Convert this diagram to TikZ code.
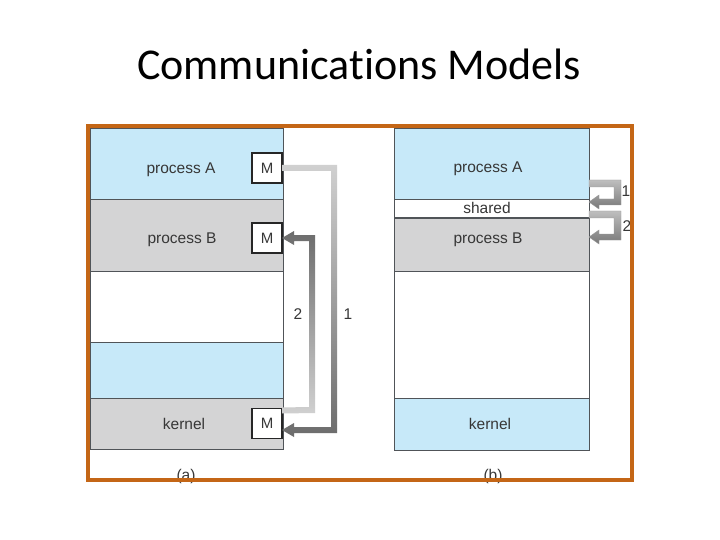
\documentclass[tikz,border=0pt]{standalone}
\usepackage{fontspec}
\setmainfont{Liberation Sans}
\newfontfamily\titlefont[Ligatures=NoCommon]{Carlito}
\usetikzlibrary{calc}
\definecolor{memblue}{RGB}{199,233,249}
\definecolor{memgray}{RGB}{212,212,213}
\definecolor{frameor}{RGB}{196,102,22}
\definecolor{edgegray}{RGB}{80,84,88}
\definecolor{txt}{RGB}{55,55,55}
\definecolor{arrlight}{RGB}{208,208,208}
\definecolor{arrdark}{RGB}{108,108,108}
\definecolor{arrmid}{RGB}{190,190,190}
\definecolor{arrdeep}{RGB}{120,120,120}
\begin{document}
\begin{tikzpicture}[x=1pt,y=-1pt,
  region/.style={draw=edgegray, line width=0.7pt, inner sep=0pt, outer sep=0pt, anchor=north west},
  lbl/.style={text=txt, font=\fontsize{15.5}{18}\selectfont, inner sep=0pt, anchor=base},
  num/.style={text=txt, font=\fontsize{15.5}{18}\selectfont, inner sep=0pt},
  mbox/.style={draw=black!85, fill=white, line width=1.2pt, minimum size=30pt, inner sep=0pt, outer sep=0pt, text=txt, font=\fontsize{15}{17}\selectfont},
  arrowband/.style={draw=none},
  arrowbandb/.style={draw=black!40, line width=0.4pt}
]
\useasboundingbox (0,0) rectangle (720,540);
\fill[white] (0,0) rectangle (720,540);

% title
\node[font=\titlefont\fontsize{44}{52}\selectfont, anchor=base, inner sep=0pt] (title) at (359,80) {Communications Models};

% ---- (a) message passing ----
\node[region, fill=memblue, minimum width=193pt, minimum height=71pt] (aA) at (90,128) {};
\node[region, fill=memgray, minimum width=193pt, minimum height=72pt] (aB) at (90,199) {};
\node[region, fill=white, minimum width=193pt, minimum height=71pt] (aF) at (90,271) {};
\node[region, fill=memblue, minimum width=193pt, minimum height=56pt] (aC) at (90,342) {};
\node[region, fill=memgray, minimum width=193pt, minimum height=51pt] (aK) at (90,398) {};

\node[lbl] (taA) at (181,173.5) {process A};
\node[lbl] (taB) at (182,243.3) {process B};
\node[lbl] (taK) at (184,429.3) {kernel};

\node[mbox] (MA) at (267,168) {M};
\node[mbox] (MB) at (267,238) {M};
\node[mbox] (MK) at (267,423.5) {M};

% arrow 1: A -> kernel
\shade[arrowband, top color=arrlight, bottom color=arrdark]
  ($(MA.east)+(0,-3)$) -- (337,165) -- (337,433) -- (294,433) -- (294,437)
  -- ($(MK.east)+(0,6.5)$) -- (294,423) -- (294,427) -- (331,427) -- (331,171)
  -- ($(MA.east)+(0,3)$) -- cycle;
% arrow 2: kernel -> B
\shade[arrowband, top color=arrdark, bottom color=arrlight]
  ($(MK.north east)+(0,-1)$) -- (309,407) -- (309,241) -- (294,241) -- (294,245)
  -- (MB.east) -- (294,231) -- (294,235) -- (315,235) -- (315,413)
  -- ($(MK.north east)+(0,5)$) -- cycle;

\node[num] (na2) at (298,314) {2};
\node[num] (na1) at (348,314) {1};

\node[lbl] (capa) at (186,480) {(a)};

% ---- (b) shared memory ----
\node[region, fill=memblue, minimum width=195pt, minimum height=71pt] (bA) at (394,128) {};
\node[region, fill=white, minimum width=195pt, minimum height=19pt] (bS) at (394,199) {};
\node[region, fill=memgray, minimum width=195pt, minimum height=53pt] (bB) at (394,218) {};
\node[region, fill=white, minimum width=195pt, minimum height=127pt] (bF) at (394,271) {};
\node[region, fill=memblue, minimum width=195pt, minimum height=52pt] (bK) at (394,398) {};
\draw[edgegray, line width=1.8pt] (bB.north west) -- (bB.north east);

\node[lbl] (tbA) at (488,173) {process A};
\node[lbl] (tbS) at (487,213.3) {shared};
\node[lbl] (tbB) at (488,243.3) {process B};
\node[lbl] (tbK) at (490,429.3) {kernel};

% arrow 1: A -> shared
\shade[arrowbandb, top color=arrmid, bottom color=arrdeep]
  ($(bA.south east)+(0,-19)$) -- (621,180) -- (621,205) -- (599,205) -- (599,209)
  -- ($(bS.north east)+(0,3)$) -- (599,195) -- (599,199) -- (614,199) -- (614,187)
  -- ($(bA.south east)+(0,-12)$) -- cycle;
% arrow 2: shared -> B
\shade[arrowbandb, top color=arrmid, bottom color=arrdeep]
  ($(bS.north east)+(0,12)$) -- (621,211) -- (621,240) -- (599,240) -- (599,244)
  -- ($(bB.north east)+(0,19)$) -- (599,230) -- (599,234) -- (614,234) -- (614,218)
  -- ($(bS.north east)+(0,19)$) -- cycle;

\node[num] (nb1) at (626,191) {1};
\node[num] (nb2) at (627,226) {2};

\node[lbl] (capb) at (493,480) {(b)};

% frame
\draw[frameor, line width=3.5pt] (88,126) rectangle (632,480);
\end{tikzpicture}
\end{document}
